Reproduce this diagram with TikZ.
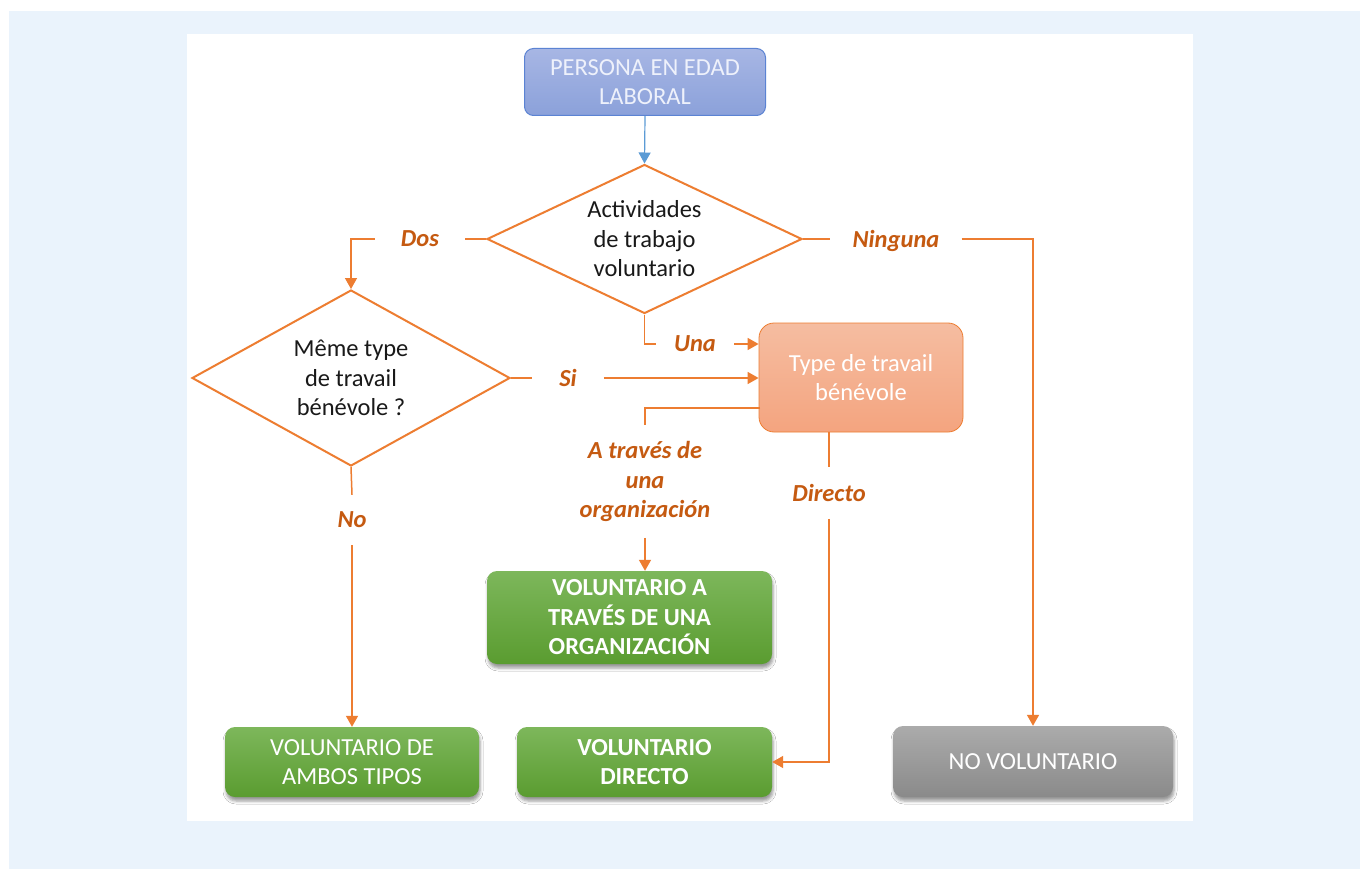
\documentclass[tikz,border=0pt]{standalone}
\usepackage{fontspec}
\setmainfont{Carlito}
\usetikzlibrary{arrows.meta,shapes.geometric,shadows.blur}
\definecolor{bgblue}{HTML}{EAF3FC}
\definecolor{orng}{HTML}{ED7D31}
\definecolor{lbl}{HTML}{C55A11}
\definecolor{pertop}{HTML}{A7B6E4}
\definecolor{perbot}{HTML}{8BA1DA}
\definecolor{perdraw}{HTML}{5B83D3}
\definecolor{pertxt}{HTML}{EEF1FB}
\definecolor{bluearr}{HTML}{5B9BD5}
\definecolor{ttop}{HTML}{F5BDA1}
\definecolor{tbot}{HTML}{F4A47F}
\definecolor{gtop}{HTML}{7DB75B}
\definecolor{gbot}{HTML}{5A9C30}
\definecolor{grtop}{HTML}{ABABAB}
\definecolor{grbot}{HTML}{8A8A8A}
\begin{document}
\begin{tikzpicture}[x=1pt,y=-1pt,
  every node/.style={font=\fontsize{24.5}{29.5}\selectfont},
  conn/.style={draw=orng, line width=1.5pt},
  arr/.style={conn, -{Triangle[length=11pt,width=12pt]}},
  lab/.style={text=lbl, font=\fontsize{24.5}{29.5}\selectfont\bfseries\itshape, align=center, inner xsep=22pt, inner ysep=17pt},
  hlab/.style={lab, text depth=0pt, inner ysep=2pt},
  dec/.style={diamond, draw=orng, line width=2pt, fill=white, align=center, inner sep=0pt, aspect=2, text=black!90},
  shad/.style={blur shadow={shadow xshift=1pt, shadow yshift=-4pt, shadow blur radius=3pt, shadow opacity=40}},
  gbox/.style={rounded corners=10pt, top color=gtop, bottom color=gbot, text=white, align=center, inner sep=0pt, shad},
  bgbox/.style={gbox, font=\fontsize{24.5}{29.5}\selectfont\bfseries},
  graybox/.style={gbox, top color=grtop, bottom color=grbot},
  perbox/.style={rounded corners=9pt, draw=perdraw, line width=1pt, top color=pertop, bottom color=perbot, text=pertxt, align=center, inner sep=0pt},
  tbox/.style={rounded corners=15pt, draw=orng, line width=0.8pt, top color=ttop, bottom color=tbot, text=white, align=center, inner sep=0pt}
]
\useasboundingbox (0,0) rectangle (1360,869);
\fill[bgblue] (9,11) rectangle (1360,869);
\fill[white] (187,34) rectangle (1193,821);

% nodes
\node[perbox, minimum width=241pt, minimum height=67pt] (per) at (645,82) {PERSONA EN EDAD\\LABORAL};
\node[dec, minimum width=315pt, minimum height=149pt] (d1) at (644.5,239) {Actividades\\de trabajo\\voluntario};
\node[dec, minimum width=318pt, minimum height=176pt] (d2) at (351,378) {Même type\\de travail\\bénévole ?};
\node[tbox, minimum width=204pt, minimum height=109pt] (type) at (861,377.5) {Type de travail\\bénévole};

\node[bgbox, minimum width=285pt, minimum height=93pt] (org) at (629.5,617.5) {VOLUNTARIO A\\TRAVÉS DE UNA\\ORGANIZACIÓN};
\node[bgbox, minimum width=255pt, minimum height=70pt] (directo) at (644.5,762) {VOLUNTARIO\\DIRECTO};
\node[gbox, minimum width=254pt, minimum height=70pt] (ambos) at (352,762) {VOLUNTARIO DE\\AMBOS TIPOS};
\node[graybox, minimum width=280pt, minimum height=71pt] (novol) at (1033,761.5) {NO VOLUNTARIO};

% labels
\node[hlab, inner xsep=26pt] (dos) at (420,239) {Dos};
\node[hlab, inner xsep=22pt] (nin) at (896,239) {Ninguna};
\node[hlab, inner xsep=18pt] (una) at (695,344) {Una};
\node[hlab, inner xsep=27pt] (si) at (568,378) {Si};
\node[lab, inner ysep=17pt] (no) at (352,520) {No};
\node[lab, inner ysep=16pt] (atr) at (645,481.5) {A través de\\una\\organización};
\node[lab, inner ysep=17pt] (dir) at (829,493) {Directo};

\coordinate (tA) at (760,408);

% connectors
\draw[draw=bluearr, line width=1.2pt, -{Triangle[length=11pt,width=12pt]}] (per.south) -- (d1.north);
\draw[conn] (d1.west) -- (dos.east);
\draw[arr] (dos.west) -| (d2.north);
\draw[conn] (d1.east) -- (nin.west);
\draw[arr] (nin.east) -| (novol.north);
\draw[conn] (d1.south) |- (una.west);
\draw[arr] (una.east) -- (una.east -| type.west);
\draw[conn] (d2.east) -- (si.west);
\draw[arr] (si.east) -- (si.east -| type.west);
\draw[conn] (tA) -| (atr.north);
\draw[arr] (atr.south) -- (atr.south |- org.north);
\draw[conn] (dir.north |- type.south) -- (dir.north);
\draw[arr] (dir.south) |- (directo.east);
\draw[conn] (d2.south) -- (no.north);
\draw[arr] (no.south) -- (ambos.north);
\end{tikzpicture}
\end{document}
